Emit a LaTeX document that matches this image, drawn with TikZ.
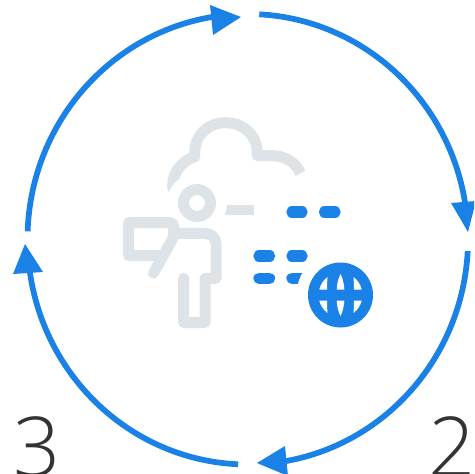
\documentclass[tikz,border=0pt]{standalone}
\usepackage{fontspec}
\setmainfont{Open Sans}
\newfontfamily\lightface{Open Sans Light}
\definecolor{ringblue}{HTML}{1A82E6}
\definecolor{icongray}{HTML}{DEE3E7}
\definecolor{digitgray}{HTML}{333333}
\tikzset{
  ring/.style={draw=ringblue,line width=4.3pt},
  tip/.style={fill=ringblue},
  gray stroke/.style={draw=icongray,line width=8.25pt,line cap=round,line join=round},
  dashpill/.style={draw=ringblue,line width=8.5pt,line cap=round},
  digit/.style={text=digitgray,inner sep=0pt,font=\lightface\fontsize{62}{62}\selectfont,anchor=base}
}
\newcommand{\ringarc}[2]{\draw[ring] (247.75,239.25) ++(#1:220.25 and 225.25) arc[start angle=#1,end angle=#2,x radius=220.25,y radius=225.25];}
\begin{document}
\begin{tikzpicture}[x=0.75pt,y=-0.75pt]
\useasboundingbox (0,0) rectangle (474,474);
\clip (0,0) rectangle (474,474);
% ring arcs
\ringarc{182}{263}
\ringarc{273}{351}
\ringarc{3}{80}
\ringarc{92.5}{172}
% arrow heads
\fill[tip] (210,5)--(241,17)--(213,35)--cycle;
\fill[tip] (451,203)--(476,201)--(468,232)--cycle;
\fill[tip] (257,463)--(285,446)--(288,476)--cycle;
\fill[tip] (25,244)--(13,274)--(43,272)--cycle;
% cloud
\draw[gray stroke] (194.7,156.7) .. controls (187,159) and (172,168) .. (172.7,188);
\draw[gray stroke] (194.7,156.7) -- (194.7,153) .. controls (194.7,135) and (208,122.7) .. (225.7,122.7) .. controls (243,122.7) and (257.3,135) .. (257.3,153) -- (257.3,155.7) -- (273,155.7);
\draw[draw=icongray,line width=8.25pt] (272,155.7) .. controls (286,155.7) and (296,163) .. (300.5,173.3);
% dash beside the head
\fill[icongray] (220,205) rectangle (254,215);
% gap round the head
\fill[white] (197,203) circle[radius=30];
% person
\draw[icongray,line width=8.25pt] (197,203) circle[radius=13.5];
\draw[gray stroke] (163,255.7)--(128.7,255.7)--(128.7,222.7)--(170,222.7) to[out=0,in=90] (173.5,236)--(172,240)--(153.5,273);
\draw[gray stroke] (177,233.3)--(205,233.3) to[out=0,in=90] (216,244)--(216,278.3)--(205,278.3)--(205,322.7)--(183.7,322.7)--(183.7,278.3);
% data dashes
\draw[dashpill] (292,212)--(302,212);
\draw[dashpill] (324.5,212)--(335,212);
\draw[dashpill] (259,256)--(269.5,256);
\draw[dashpill] (292,256)--(302,256);
\draw[dashpill] (259,278.3)--(269.5,278.3);
\draw[dashpill] (292,278.3)--(302,278.3);
% gap round the globe
\fill[white] (340.5,295) circle[radius=44];
% globe
\fill[ringblue] (340.5,295) circle[radius=32.5];
\fill[white] (340.5,274) .. controls (338,279) and (337,284) .. (336.7,289.5) -- (344.3,289.5) .. controls (344,284) and (343,279) .. (340.5,274) -- cycle;
\fill[white] (340.5,316) .. controls (338,311) and (337,306) .. (336.7,300.5) -- (344.3,300.5) .. controls (344,306) and (343,311) .. (340.5,316) -- cycle;
\fill[white] (327.5,277) .. controls (323.5,280) and (320.5,284.5) .. (319.3,289.5) -- (327,289.5) .. controls (327,285) and (327.2,281) .. (327.5,277) -- cycle;
\fill[white] (353.5,277) .. controls (357.5,280) and (360.5,284.5) .. (361.7,289.5) -- (354,289.5) .. controls (354,285) and (353.8,281) .. (353.5,277) -- cycle;
\fill[white] (327.5,313) .. controls (323.5,310) and (320.5,305.5) .. (319.3,300.5) -- (327,300.5) .. controls (327,305) and (327.2,309) .. (327.5,313) -- cycle;
\fill[white] (353.5,313) .. controls (357.5,310) and (360.5,305.5) .. (361.7,300.5) -- (354,300.5) .. controls (354,305) and (353.8,309) .. (353.5,313) -- cycle;
% digits
\node[digit] (three) at (37.5,476) {3};
\node[digit] (two) at (452.5,476) {2};
\end{tikzpicture}
\end{document}
